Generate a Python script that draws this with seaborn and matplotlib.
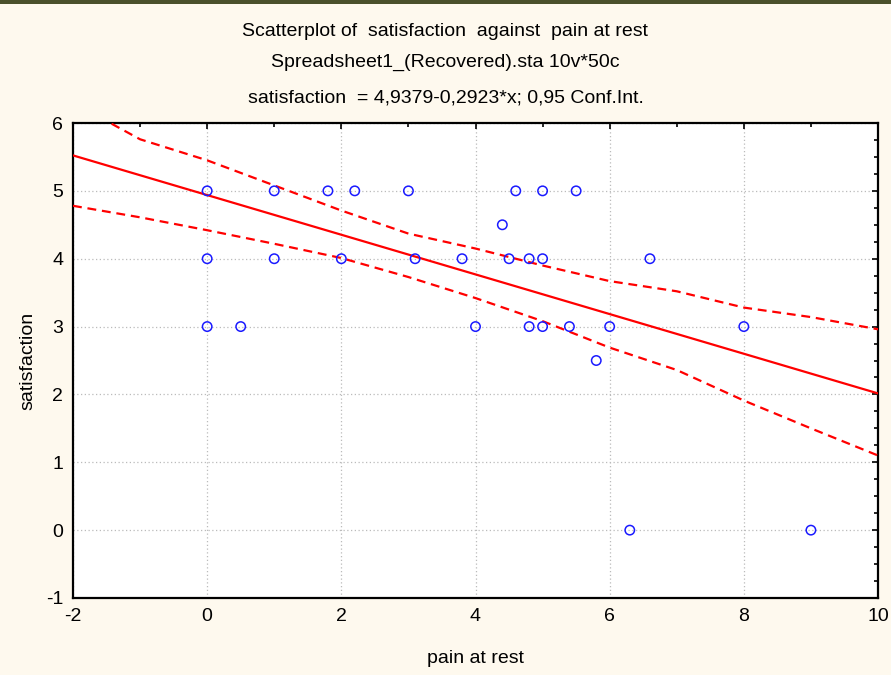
import matplotlib
matplotlib.use('Agg')

import matplotlib.pyplot as plt
import seaborn as sns
import pandas as pd
from matplotlib.ticker import MultipleLocator

pain = [0, 0, 0, 0.5, 1, 1, 1.8, 2.2, 2, 3, 3.1, 3.8, 4, 4.4, 4.5, 4.6,
        4.8, 4.8, 5, 5, 5, 5.4, 5.5, 5.8, 6, 6.6, 8, 6.3, 9]
satisfaction = [5, 4, 3, 3, 5, 4, 5, 5, 4, 5, 4, 4, 3, 4.5, 4, 5,
                4, 3, 5, 4, 3, 3, 5, 2.5, 3, 4, 3, 0, 0]

# fit from the chart title
fit_intercept = 4.9379
fit_slope = -0.2923

# 95% confidence band read at integer x
band_x = [-2, -1, 0, 1, 2, 3, 4, 5, 6, 7, 8, 9, 10]
band_upper = [6.30, 5.76, 5.45, 5.08, 4.71, 4.37, 4.15, 3.90, 3.67, 3.52, 3.28, 3.14, 2.96]
band_lower = [4.78, 4.61, 4.42, 4.22, 4.01, 3.73, 3.42, 3.08, 2.69, 2.36, 1.91, 1.50, 1.10]

x_lim = (-2, 10)
y_lim = (-1, 6)

sns.set_style('white')
plt.rcParams['font.family'] = ['Liberation Sans', 'DejaVu Sans']
plt.rcParams['axes.unicode_minus'] = False
plt.rcParams['text.color'] = 'black'
plt.rcParams['axes.labelcolor'] = 'black'
plt.rcParams['xtick.color'] = 'black'
plt.rcParams['ytick.color'] = 'black'

fs = 14
bg = '#FEF9EE'
fig = plt.figure(figsize=(8.91, 6.75), dpi=100, facecolor=bg)
ax = fig.add_axes([73 / 891, 1 - 598 / 675, 805 / 891, 475 / 675])
ax.set_facecolor('white')

# top dark strip
fig.patches.append(plt.Rectangle((0, 1 - 4 / 675), 1, 4 / 675, transform=fig.transFigure,
                                 facecolor='#4B512B', edgecolor='none', zorder=0))

df = pd.DataFrame({'pain at rest': pain, 'satisfaction': satisfaction})
fit_df = pd.DataFrame({'x': list(x_lim),
                       'y': [fit_intercept + fit_slope * v for v in x_lim]})
band_df = pd.DataFrame({'x': band_x, 'upper': band_upper, 'lower': band_lower})

sns.lineplot(data=fit_df, x='x', y='y', ax=ax, color='#FF0000', lw=1.6, zorder=3)
sns.lineplot(data=band_df, x='x', y='upper', ax=ax, color='#FF0000', lw=1.6,
             linestyle=(0, (4, 2.6)), zorder=3)
sns.lineplot(data=band_df, x='x', y='lower', ax=ax, color='#FF0000', lw=1.6,
             linestyle=(0, (4, 2.6)), zorder=3)
sns.scatterplot(data=df, x='pain at rest', y='satisfaction', ax=ax, s=46,
                facecolor='none', edgecolor='#1A1AFF', linewidth=1.1, zorder=4)

ax.set_xlim(*x_lim)
ax.set_ylim(*y_lim)
ax.xaxis.set_major_locator(MultipleLocator(2))
ax.xaxis.set_minor_locator(MultipleLocator(1))
ax.yaxis.set_major_locator(MultipleLocator(1))
ax.yaxis.set_minor_locator(MultipleLocator(0.25))
ax.grid(True, which='major', color='#BBBBBB', linestyle=(0, (1, 2)), lw=0.9)
ax.tick_params(which='both', direction='in', top=True, right=True,
               color='black', width=1.2, labelsize=fs, pad=7)
ax.tick_params(which='major', length=4)
ax.tick_params(which='minor', length=3)
for s in ax.spines.values():
    s.set_color('black')
    s.set_linewidth(1.6)

ax.set_xlabel('pain at rest', fontsize=fs, labelpad=18)
ax.set_ylabel('satisfaction', fontsize=fs, labelpad=7)

fig.text(0.5, 1 - 32 / 675, 'Scatterplot of  satisfaction  against  pain at rest',
         ha='center', va='center', fontsize=fs)
fig.text(0.5, 1 - 62 / 675, 'Spreadsheet1_(Recovered).sta 10v*50c',
         ha='center', va='center', fontsize=fs)
fig.text(0.5, 1 - 98 / 675, 'satisfaction  = 4,9379-0,2923*x; 0,95 Conf.Int.',
         ha='center', va='center', fontsize=fs)

fig.savefig('out.png', dpi=100, facecolor=bg)
